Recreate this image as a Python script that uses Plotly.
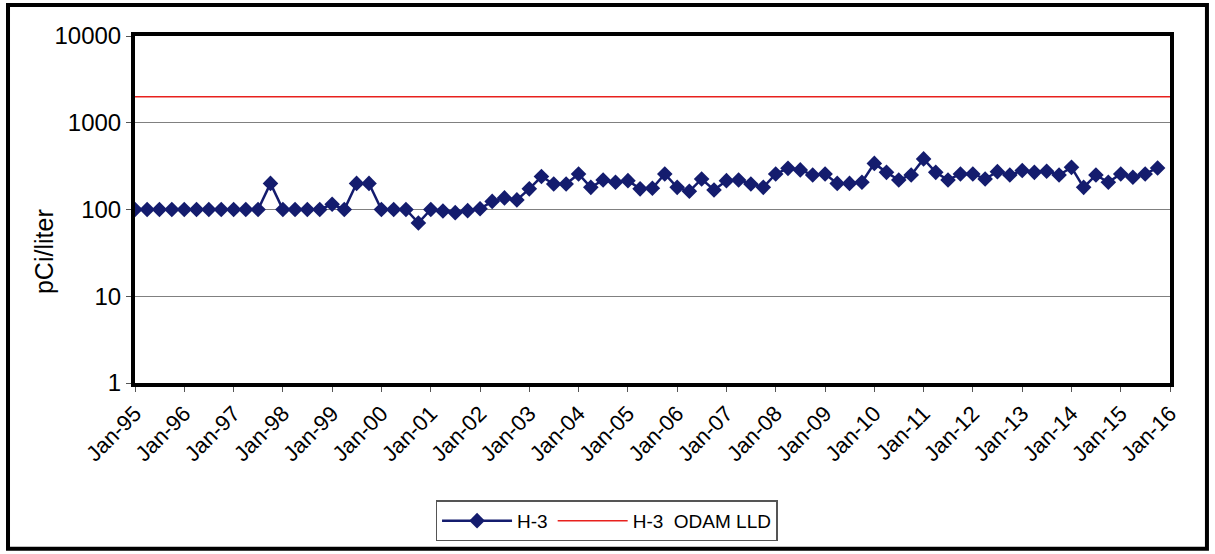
import plotly.graph_objects as go
import pandas as pd

# Quarterly sample dates Jan-95 .. Oct-15
dates = pd.date_range("1995-01-01", periods=84, freq="QS").strftime("%Y-%m-%d").tolist()
h3_values = [
    100, 100, 100, 100, 100, 100, 100, 100, 100, 100, 100, 200,
    100, 100, 100, 100, 115, 100, 200, 200, 100, 100, 100, 70,
    100, 96, 92, 97, 102, 124, 136, 129, 173, 240, 197, 197,
    257, 180, 219, 206, 215, 173, 176, 257, 180, 162, 225, 168,
    215, 219, 197, 180, 257, 298, 286, 250, 257, 200, 200, 206,
    340, 268, 219, 250, 383, 268, 219, 257, 257, 225, 273, 250,
    281, 268, 276, 250, 306, 180, 250, 206, 257, 235, 257, 301,
]
lld_dates = ["1995-01-01", "2016-01-01"]
lld_values = [2000, 2000]
y_ticks = [1, 10, 100, 1000, 10000]

fig = go.Figure()
fig.add_trace(go.Scatter(
    x=dates, y=h3_values, name="H-3", mode="lines+markers",
    line=dict(color="#141c6e", width=2.5),
    marker=dict(symbol="diamond", size=12, color="#141c6e"),
))
fig.add_trace(go.Scatter(
    x=lld_dates, y=lld_values, name="H-3  ODAM LLD", mode="lines",
    line=dict(color="#e8211d", width=1.5),
))

fig.update_layout(
    width=1215, height=554,
    margin=dict(l=135, r=45, t=36, b=171),
    paper_bgcolor="white", plot_bgcolor="white",
    font=dict(family="Liberation Sans, Arial, sans-serif", color="black", size=19),
    showlegend=True,
    legend=dict(orientation="h", x=0.4556, xanchor="center", y=-0.338, yanchor="top",
                bordercolor="#555", borderwidth=1.5, font=dict(size=19),
                itemwidth=70, tracegroupgap=0),
    xaxis=dict(
        type="date", range=["1995-01-01", "2016-01-01"],
        dtick="M12", tick0="1995-01-01", tickformat="%b-%y", tickangle=-45,
        showgrid=False, showline=True, linecolor="black", linewidth=4, mirror=True,
        ticks="outside", ticklen=5, tickcolor="#555", tickfont=dict(size=22),
    ),
    yaxis=dict(
        type="log", range=[0, 4], tickvals=y_ticks, ticktext=[str(v) for v in y_ticks],
        showgrid=True, gridcolor="#808080", gridwidth=1,
        showline=True, linecolor="black", linewidth=4, mirror=True,
        ticks="outside", ticklen=5, tickcolor="#555", tickfont=dict(size=24),
    ),
    annotations=[dict(text="pCi/liter", xref="paper", yref="paper",
                      x=-0.0879, y=0.3775, textangle=-90, showarrow=False,
                      xanchor="center", yanchor="middle", font=dict(size=25))],
    shapes=[dict(type="rect", xref="paper", yref="paper",
                 x0=-0.1227, x1=1.0357, y0=-0.478, y1=1.0893,
                 line=dict(color="black", width=4), layer="below")],
)

fig.write_html("out.html", config={"displayModeBar": False},
               post_script="document.body.style.margin='0';document.body.style.overflow='hidden';")
